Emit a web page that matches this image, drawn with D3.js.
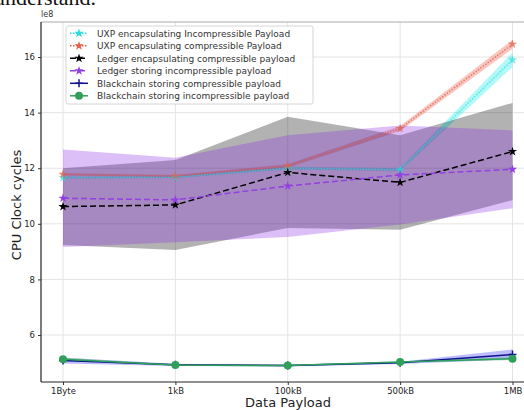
<!DOCTYPE html>
<html>
<head>
<meta charset="utf-8">
<script src="https://cdn.jsdelivr.net/npm/d3@7"></script>
<style>
  html, body { margin: 0; padding: 0; background: #fff; }
  svg { display: block; font-family: "DejaVu Sans", sans-serif; }
</style>
</head>
<body>
<svg id="chart" width="524" height="410"></svg>
<script>
// 数据 (单位 1e8 cycles)
const categories = ["1Byte", "1kB", "100kB", "500kB", "1MB"];
const yTicks = [6, 8, 10, 12, 14, 16];

const uxpIncomp = [11.66, 11.68, 12.0, 11.95, 15.9];
const uxpIncompStd = [0.04, 0.04, 0.05, 0.06, 0.26];
const uxpComp = [11.78, 11.72, 12.08, 13.43, 16.46];
const uxpCompStd = [0.04, 0.04, 0.06, 0.09, 0.16];
const ledgerEnc = [10.62, 10.68, 11.85, 11.49, 12.6];
const ledgerEncStd = [1.38, 1.62, 2.0, 1.7, 1.75];
const ledgerStore = [10.92, 10.86, 11.36, 11.76, 11.96];
const ledgerStoreStd = [1.75, 1.52, 1.83, 1.78, 1.4];
const chainComp = [5.08, 4.93, 4.9, 5.0, 5.3];
const chainCompStd = [0.1, 0.04, 0.03, 0.04, 0.18];
const chainIncomp = [5.13, 4.92, 4.9, 5.03, 5.15];
const chainIncompStd = [0.06, 0.03, 0.03, 0.03, 0.06];

const series = [
    { name: "UXP encapsulating Incompressible Payload", vals: uxpIncomp, std: uxpIncompStd,
      color: "#22dede", band: "#00e8e8", bandOp: 0.3, dash: "1.5,1.5", marker: "star", lineOp: 0.65 },
    { name: "UXP encapsulating compressible Payload", vals: uxpComp, std: uxpCompStd,
      color: "#e0604a", band: "#f08070", bandOp: 0.45, dash: "1.5,1.5", marker: "star", lineOp: 0.75 },
    { name: "Ledger encapsulating compressible payload", vals: ledgerEnc, std: ledgerEncStd,
      color: "#000000", band: "#000000", bandOp: 0.3, dash: "6,3", marker: "star", lineOp: 1 },
    { name: "Ledger storing incompressible payload", vals: ledgerStore, std: ledgerStoreStd,
      color: "#9440e0", band: "#8a2be2", bandOp: 0.3, dash: "6,3", marker: "star", lineOp: 1 },
    { name: "Blackchain storing compressible payload", vals: chainComp, std: chainCompStd,
      color: "#10108c", band: "#2020ff", bandOp: 0.3, dash: null, marker: "plus", lineOp: 1 },
    { name: "Blackchain storing incompressible payload", vals: chainIncomp, std: chainIncompStd,
      color: "#2fa05a", band: "#2fa05a", bandOp: 0.3, dash: null, marker: "circle", lineOp: 1 }
];

const svg = d3.select('#chart');
const plotL = 41, plotR = 535, plotT = 22, plotB = 382;

const x = d3.scalePoint().domain(categories).range([63, 512.5]);
const y = d3.scaleLinear().domain([4.31, 17.26]).range([plotB, plotT]);

// 顶部被截断的正文
svg.append('text')
    .attr('x', 96).attr('y', 5)
    .attr('text-anchor', 'end')
    .style('font-family', '"Liberation Serif", serif')
    .style('font-size', '22px')
    .attr('fill', '#111')
    .text('understand.');

// 网格
const grid = svg.append('g');
grid.selectAll('line.v').data(categories).join('line')
    .attr('x1', d => x(d)).attr('x2', d => x(d))
    .attr('y1', plotT).attr('y2', plotB)
    .attr('stroke', '#e4e4e4').attr('stroke-width', 1);
grid.selectAll('line.h').data(yTicks).join('line')
    .attr('x1', plotL).attr('x2', plotR)
    .attr('y1', d => y(d)).attr('y2', d => y(d))
    .attr('stroke', '#e4e4e4').attr('stroke-width', 1);

// 误差带
const area = d3.area()
    .x((d, i) => x(categories[i]))
    .y0(d => y(d[0] - d[1]))
    .y1(d => y(d[0] + d[1]));

series.forEach(s => {
    const pts = s.vals.map((v, i) => [v, s.std[i]]);
    svg.append('path')
        .attr('d', area(pts))
        .attr('fill', s.band)
        .attr('fill-opacity', s.bandOp);
});

// 折线与标记
const line = d3.line().x((d, i) => x(categories[i])).y(d => y(d));
const star = d3.symbol().type(d3.symbolStar).size(26);

function drawMarker(g, type, color, cx, cy) {
    if (type === 'star') {
        g.append('path').attr('d', star())
            .attr('transform', `translate(${cx},${cy})`)
            .attr('fill', color);
    } else if (type === 'circle') {
        g.append('circle').attr('cx', cx).attr('cy', cy).attr('r', 4).attr('fill', color);
    } else {
        g.append('path')
            .attr('d', `M${cx - 4},${cy}H${cx + 4}M${cx},${cy - 4}V${cy + 4}`)
            .attr('stroke', color).attr('stroke-width', 1.5);
    }
}

series.forEach(s => {
    const g = svg.append('g').attr('opacity', s.lineOp);
    g.append('path')
        .attr('d', line(s.vals))
        .attr('fill', 'none')
        .attr('stroke', s.color)
        .attr('stroke-width', 1.5)
        .attr('stroke-dasharray', s.dash);
    s.vals.forEach((v, i) => drawMarker(g, s.marker, s.color, x(categories[i]), y(v)));
});

// 轴
svg.append('line').attr('x1', plotL).attr('x2', plotR).attr('y1', plotT).attr('y2', plotT)
    .attr('stroke', '#aaa').attr('stroke-width', 1);

const yAxis = svg.append('g')
    .attr('transform', `translate(${plotL},0)`)
    .call(d3.axisLeft(y).tickValues(yTicks).tickSize(3).tickPadding(3));
const xAxis = svg.append('g')
    .attr('transform', `translate(0,${plotB})`)
    .call(d3.axisBottom(x).tickSize(3).tickPadding(3));
xAxis.select('.domain').attr('d', `M${plotL},0H${plotR}`);
yAxis.select('.domain').attr('d', `M0,${plotT}V${plotB}`);
[xAxis, yAxis].forEach(a => {
    a.select('.domain').attr('stroke', '#222').attr('stroke-width', 1.2);
    a.selectAll('.tick line').attr('stroke', '#333');
    a.selectAll('.tick text')
        .attr('fill', '#222')
        .style('font-family', '"DejaVu Sans", sans-serif')
        .style('font-size', '8.5px');
});

svg.append('text')
    .attr('x', 41).attr('y', 17)
    .style('font-size', '8px').attr('fill', '#333')
    .text('le8');

svg.append('text')
    .attr('transform', 'translate(21,205) rotate(-90)')
    .attr('text-anchor', 'middle')
    .style('font-size', '13px').attr('fill', '#222')
    .text('CPU Clock cycles');

svg.append('text')
    .attr('x', 288).attr('y', 407)
    .attr('text-anchor', 'middle')
    .style('font-size', '13px').attr('fill', '#222')
    .text('Data Payload');

// 图例
const lg = svg.append('g');
lg.append('rect')
    .attr('x', 66).attr('y', 26).attr('width', 247).attr('height', 78)
    .attr('rx', 2)
    .attr('fill', '#fff').attr('fill-opacity', 0.85)
    .attr('stroke', '#ccc').attr('stroke-width', 0.8);
series.forEach((s, i) => {
    const cy = 33.3 + i * 12.5;
    const g = lg.append('g');
    g.append('line')
        .attr('x1', 70).attr('x2', 88).attr('y1', cy).attr('y2', cy)
        .attr('stroke', s.color).attr('stroke-width', 1.5)
        .attr('stroke-dasharray', s.dash);
    drawMarker(g, s.marker, s.color, 79, cy);
    g.append('text')
        .attr('x', 97).attr('y', cy + 3.2)
        .style('font-size', '9px').attr('fill', '#333')
        .text(s.name);
});
</script>
</body>
</html>
